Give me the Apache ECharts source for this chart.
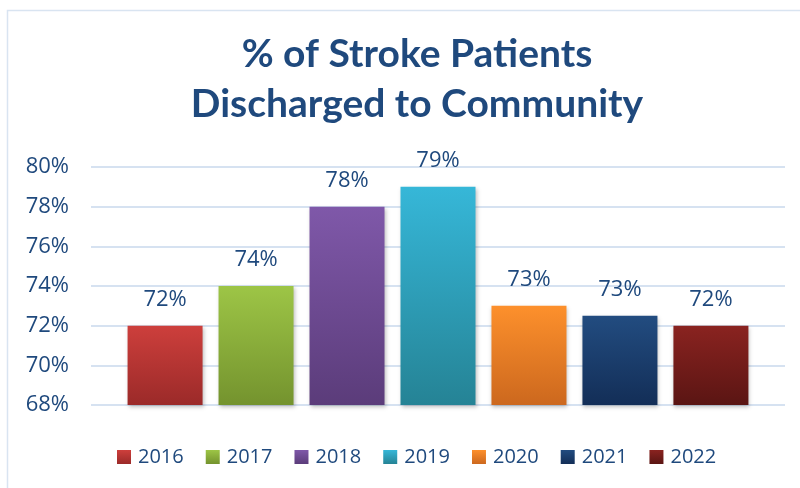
<!DOCTYPE html>
<html>
<head>
<meta charset="utf-8">
<script src="https://cdn.jsdelivr.net/npm/echarts@6/dist/echarts.min.js"></script>
<style>
  html, body { margin: 0; padding: 0; background: #fff; }
  #chart { width: 800px; height: 488px; }
</style>
</head>
<body>
<div id="chart"></div>
<script>
// years (one series each) and their values in %
const years = ["2016", "2017", "2018", "2019", "2020", "2021", "2022"];
const values = [72, 74, 78, 79, 73, 72.5, 72];
// top / bottom gradient colours per bar
const topColors = ["#CD3F3C", "#9DC546", "#7F58A9", "#36B7D8", "#FD902C", "#224C80", "#8A2320"];
const bottomColors = ["#9B2A29", "#74932E", "#5B3C7A", "#258395", "#CC681E", "#132E57", "#5A1513"];

const chart = echarts.init(document.getElementById("chart"));
const textColor = "#1F497D";
const font = "'Open Sans', sans-serif";

const series = years.map((y, i) => ({
  name: y,
  type: "bar",
  barWidth: 75,
  barGap: "21.3%",
  data: [values[i]],
  itemStyle: {
    color: new echarts.graphic.LinearGradient(0, 0, 0, 1, [
      { offset: 0, color: topColors[i] },
      { offset: 1, color: bottomColors[i] },
    ]),
    shadowColor: "rgba(0,0,0,0.25)",
    shadowBlur: 4,
    shadowOffsetX: 1,
    shadowOffsetY: 2,
  },
  label: {
    show: true,
    position: "top",
    distance: 15,
    color: textColor,
    fontSize: 22,
    fontFamily: font,
    formatter: (p) => Math.round(p.value) + "%",
  },
}));

chart.setOption({
  animation: false,
  graphic: [
    {
      type: "rect",
      shape: { x: 7.5, y: 10.5, width: 800, height: 500 },
      style: { fill: "none", stroke: "#D9E4F1", lineWidth: 1.5 },
      silent: true,
    },
  ],
  title: {
    text: "% of Stroke Patients\nDischarged to Community",
    left: 412,
    textAlign: "center",
    top: 24,
    textStyle: {
      color: textColor,
      fontSize: 39,
      fontWeight: "bold",
      fontFamily: "Lato",
      lineHeight: 50,
    },
  },
  legend: {
    bottom: 16,
    left: 112,
    itemWidth: 14,
    itemHeight: 14,
    itemGap: 22,
    icon: "rect",
    textStyle: { color: textColor, fontSize: 20, fontFamily: font, padding: [0, 0, 0, 2] },
    data: years,
  },
  grid: { left: 91, right: 15, top: 167, bottom: 83 },
  xAxis: {
    type: "category",
    data: [""],
    axisLine: { show: false },
    axisTick: { show: false },
    axisLabel: { show: false },
  },
  yAxis: {
    type: "value",
    min: 68,
    max: 80,
    interval: 2,
    axisLine: { show: false },
    axisTick: { show: false },
    axisLabel: {
      color: textColor,
      fontSize: 22,
      fontFamily: font,
      margin: 22,
      formatter: "{value}%",
    },
    splitLine: { lineStyle: { color: "#D6E2F1", width: 2 } },
  },
  series: series,
});
</script>
</body>
</html>
